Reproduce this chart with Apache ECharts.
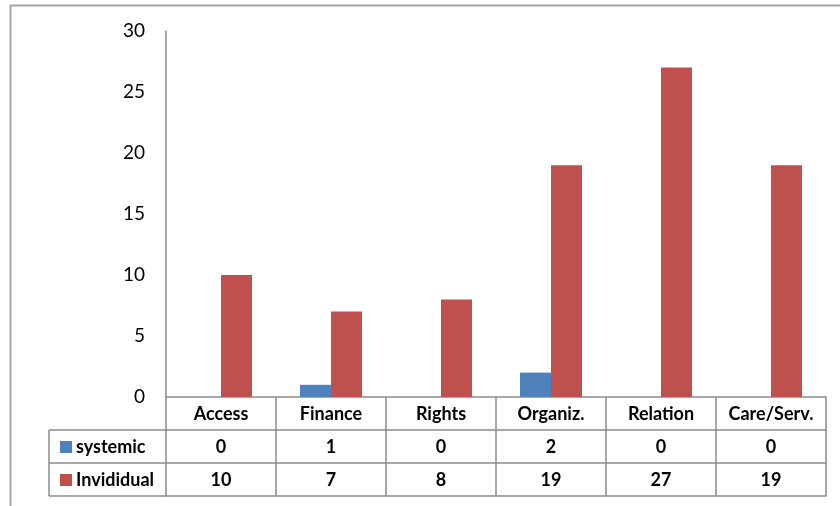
<!DOCTYPE html>
<html>
<head>
<meta charset="utf-8">
<script src="https://cdn.jsdelivr.net/npm/echarts@6/dist/echarts.min.js"></script>
<style>html,body{margin:0;padding:0;background:#fff}#c{width:840px;height:506px}</style>
</head>
<body>
<div id="c"></div>
<script>
const categories = ['Access', 'Finance', 'Rights', 'Organiz.', 'Relation', 'Care/Serv.'];
const systemic = [0, 1, 0, 2, 0, 0];
const individual = [10, 7, 8, 19, 27, 19];
const seriesNames = ['systemic', 'Invididual'];
const yTicks = { min: 0, max: 30, interval: 5 };

const FONT = 'Lato, "Liberation Sans", sans-serif';
const LINE = '#8c8c8c';
const W = 840, H = 506;
const gridLeft = 166, gridRight = 14, gridTop = 31, rowH = 33;
const gridBottom = H - 397;
const legendColLeft = 49;
const axisBottomY = H - gridBottom;

const chart = echarts.init(document.getElementById('c'), null, { renderer: 'canvas' });

function tableAxis(data, offset, showLabel, showTick) {
  return {
    type: 'category',
    position: 'bottom',
    offset: offset,
    gridIndex: 0,
    data: data,
    axisLine: { show: true, lineStyle: { color: LINE, width: 1.5 } },
    axisTick: { show: showTick, length: rowH, interval: 0, lineStyle: { color: LINE, width: 1.5 } },
    axisLabel: {
      show: showLabel, interval: 0, margin: 8,
      fontFamily: FONT, fontSize: 18, fontWeight: 'bold', color: '#000'
    },
    splitLine: { show: false }
  };
}

const option = {
  animation: false,
  backgroundColor: '#fff',
  grid: { left: gridLeft, right: gridRight, top: gridTop, bottom: gridBottom, containLabel: false },
  legend: {
    orient: 'vertical',
    left: 55,
    top: axisBottomY + rowH + 3,
    itemGap: 15,
    itemWidth: 12,
    itemHeight: 12,
    icon: 'rect',
    itemStyle: { borderWidth: 0 },
    textStyle: { fontFamily: FONT, fontSize: 18, fontWeight: 'bold', color: '#000', lineHeight: 18, padding: [0, 0, 0, -1] },
    data: seriesNames
  },
  xAxis: [
    tableAxis(categories, 0, true, true),
    tableAxis(systemic.map(String), rowH, true, true),
    tableAxis(individual.map(String), rowH * 2, true, true),
    tableAxis(categories.map(() => ''), rowH * 3, false, false)
  ],
  yAxis: {
    type: 'value',
    min: yTicks.min, max: yTicks.max, interval: yTicks.interval,
    axisLine: { show: true, lineStyle: { color: LINE, width: 1.5 } },
    axisTick: { show: false },
    splitLine: { show: false },
    axisLabel: { margin: 21, fontFamily: FONT, fontSize: 19, color: '#000' }
  },
  series: [
    {
      name: seriesNames[0], type: 'bar', data: systemic, xAxisIndex: 0,
      barWidth: 31, barGap: '0%',
      itemStyle: { color: '#4F81BD' }
    },
    {
      name: seriesNames[1], type: 'bar', data: individual, xAxisIndex: 0,
      barWidth: 31, barGap: '0%',
      itemStyle: { color: '#C0504D' }
    }
  ],
  graphic: [
    { type: 'rect', shape: { x: 10.5, y: 5.5, width: W + 50, height: H + 50 },
      style: { fill: null, stroke: '#a6a6a6', lineWidth: 2 }, silent: true, z: -1 },
    { type: 'line', shape: { x1: legendColLeft, y1: axisBottomY + rowH, x2: gridLeft, y2: axisBottomY + rowH },
      style: { stroke: LINE, lineWidth: 1.5 } },
    { type: 'line', shape: { x1: legendColLeft, y1: axisBottomY + rowH * 2, x2: gridLeft, y2: axisBottomY + rowH * 2 },
      style: { stroke: LINE, lineWidth: 1.5 } },
    { type: 'line', shape: { x1: legendColLeft, y1: axisBottomY + rowH * 3, x2: gridLeft, y2: axisBottomY + rowH * 3 },
      style: { stroke: LINE, lineWidth: 1.5 } },
    { type: 'line', shape: { x1: legendColLeft, y1: axisBottomY + rowH, x2: legendColLeft, y2: axisBottomY + rowH * 3 },
      style: { stroke: LINE, lineWidth: 1.5 } }
  ]
};
chart.setOption(option);
</script>
</body>
</html>
